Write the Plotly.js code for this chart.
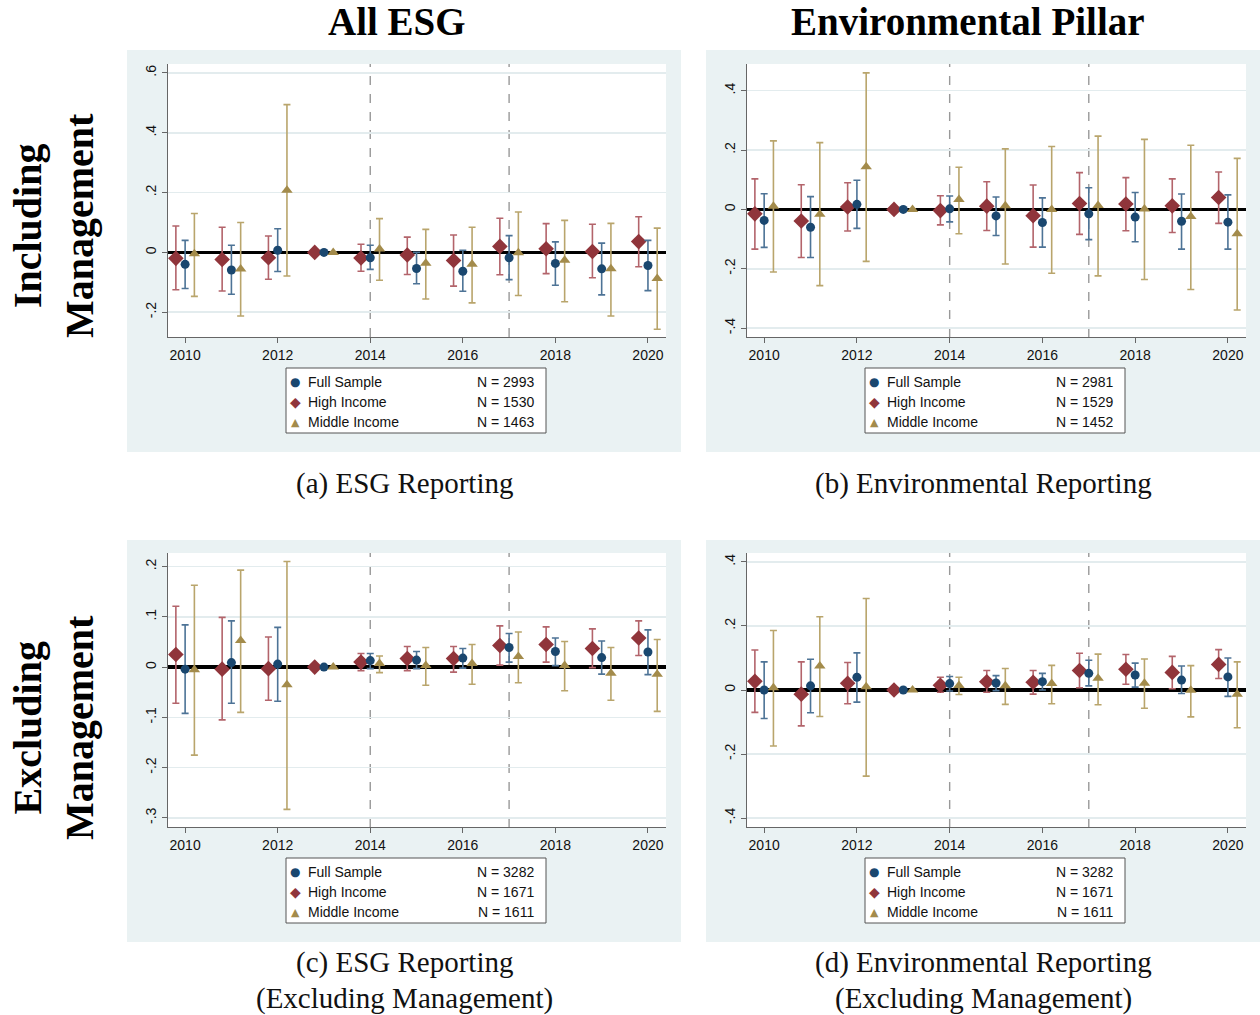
<!DOCTYPE html>
<html><head><meta charset="utf-8">
<script src="https://cdn.plot.ly/plotly-3.0.1.min.js"></script>
<style>html,body{margin:0;padding:0;background:#fff}#chart{width:1260px;height:1015px}</style>
</head><body><div id="chart"></div>
<script>
// ---------- data ----------
const years = [2010,2011,2012,2013,2014,2015,2016,2017,2018,2019,2020];
const seriesNames = ["Full Sample","High Income","Middle Income"];
const xTickVals = [2010,2012,2014,2016,2018,2020];
const eventYears = [2014,2017];

// Panel A: ESG reporting (including management)
const aFullB  = [-0.040,-0.059,0.007,0,-0.018,-0.054,-0.063,-0.018,-0.037,-0.055,-0.044];
const aFullLo = [-0.121,-0.140,-0.064,null,-0.057,-0.105,-0.130,-0.091,-0.110,-0.142,-0.128];
const aFullHi = [0.040,0.024,0.079,null,0.024,0.000,0.007,0.056,0.035,0.031,0.040];
const aHighB  = [-0.020,-0.024,-0.018,0,-0.019,-0.009,-0.027,0.020,0.012,0.003,0.036];
const aHighLo = [-0.125,-0.129,-0.090,null,-0.063,-0.074,-0.113,-0.075,-0.071,-0.085,-0.048];
const aHighHi = [0.088,0.084,0.055,null,0.027,0.051,0.058,0.114,0.096,0.094,0.119];
const aMidB   = [-0.005,-0.056,0.208,0,0.011,-0.036,-0.040,-0.001,-0.026,-0.055,-0.087];
const aMidLo  = [-0.147,-0.213,-0.079,null,-0.093,-0.156,-0.169,-0.144,-0.165,-0.213,-0.257];
const aMidHi  = [0.130,0.100,0.494,null,0.113,0.077,0.084,0.135,0.107,0.097,0.081];
const aN = [2993,1530,1463];

// Panel B: Environmental reporting (including management)
const bFullB  = [-0.037,-0.060,0.017,0,0.002,-0.022,-0.044,-0.015,-0.026,-0.040,-0.043];
const bFullLo = [-0.128,-0.162,-0.064,null,-0.042,-0.088,-0.127,-0.102,-0.109,-0.134,-0.134];
const bFullHi = [0.053,0.043,0.098,null,0.045,0.042,0.039,0.073,0.057,0.052,0.049];
const bHighB  = [-0.015,-0.039,0.008,0,-0.004,0.011,-0.021,0.020,0.018,0.012,0.040];
const bHighLo = [-0.134,-0.162,-0.073,null,-0.052,-0.071,-0.127,-0.084,-0.072,-0.078,-0.047];
const bHighHi = [0.103,0.083,0.090,null,0.046,0.093,0.082,0.124,0.107,0.103,0.126];
const bMidB   = [0.011,-0.016,0.144,0,0.033,0.012,0.000,0.013,0.001,-0.024,-0.082];
const bMidLo  = [-0.211,-0.257,-0.175,null,-0.082,-0.184,-0.215,-0.224,-0.236,-0.270,-0.339];
const bMidHi  = [0.231,0.225,0.460,null,0.142,0.204,0.212,0.247,0.236,0.216,0.172];
const bN = [2981,1529,1452];

// Panel C: ESG reporting (excluding management)
const cFullB  = [-0.004,0.009,0.006,0,0.013,0.014,0.018,0.039,0.031,0.019,0.030];
const cFullLo = [-0.092,-0.072,-0.068,null,-0.003,-0.003,-0.002,0.010,0.003,-0.014,-0.015];
const cFullHi = [0.084,0.092,0.079,null,0.027,0.031,0.037,0.067,0.058,0.052,0.074];
const cHighB  = [0.025,-0.004,-0.003,0,0.010,0.017,0.017,0.043,0.045,0.037,0.058];
const cHighLo = [-0.072,-0.105,-0.066,null,-0.007,-0.007,-0.010,0.004,0.010,-0.001,0.023];
const cHighHi = [0.121,0.099,0.060,null,0.027,0.041,0.041,0.082,0.080,0.076,0.092];
const cMidB   = [-0.005,0.053,-0.035,0,0.007,0.003,0.007,0.021,0.003,-0.012,-0.014];
const cMidLo  = [-0.175,-0.090,-0.283,null,-0.011,-0.036,-0.034,-0.031,-0.047,-0.066,-0.088];
const cMidHi  = [0.163,0.193,0.210,null,0.022,0.039,0.045,0.070,0.051,0.039,0.055];
const cN = [3282,1671,1611];

// Panel D: Environmental reporting (excluding management)
const dFullB  = [0.000,0.013,0.040,0,0.020,0.022,0.026,0.052,0.047,0.031,0.041];
const dFullLo = [-0.089,-0.071,-0.038,null,-0.003,-0.002,0.000,0.013,0.009,-0.011,-0.020];
const dFullHi = [0.088,0.096,0.116,null,0.042,0.045,0.052,0.093,0.084,0.075,0.100];
const dHighB  = [0.027,-0.013,0.021,0,0.015,0.026,0.024,0.061,0.065,0.055,0.080];
const dHighLo = [-0.070,-0.112,-0.043,null,-0.007,-0.007,-0.013,0.007,0.018,0.004,0.036];
const dHighHi = [0.125,0.088,0.086,null,0.040,0.061,0.061,0.115,0.111,0.105,0.126];
const dMidB   = [0.007,0.075,0.010,0,0.014,0.013,0.020,0.037,0.021,-0.001,-0.013];
const dMidLo  = [-0.175,-0.083,-0.269,null,-0.014,-0.045,-0.043,-0.046,-0.057,-0.084,-0.118];
const dMidHi  = [0.186,0.229,0.286,null,0.040,0.067,0.077,0.112,0.097,0.076,0.088];
const dN = [3282,1671,1611];

const colTitles = ["All ESG","Environmental Pillar"];
const rowTitles = ["Including<br>Management","Excluding<br>Management"];
const captionLine1 = ["(a) ESG Reporting","(b) Environmental Reporting","(c) ESG Reporting","(d) Environmental Reporting"];
const captionLine2 = ["","","(Excluding Management)","(Excluding Management)"];

const aTicks = [-0.2,0,0.2,0.4,0.6], aTickText = ["-.2","0",".2",".4",".6"];
const bTicks = [-0.4,-0.2,0,0.2,0.4], bTickText = ["-.4","-.2","0",".2",".4"];
const cTicks = [-0.3,-0.2,-0.1,0,0.1,0.2], cTickText = ["-.3","-.2","-.1","0",".1",".2"];
const dTicks = [-0.4,-0.2,0,0.2,0.4], dTickText = ["-.4","-.2","0",".2",".4"];

// ---------- layout / styling ----------
const W = 1260, H = 1015;
const px = x => x / W, py = y => 1 - y / H;
const colors = {full:"#1a476f", high:"#90353b", mid:"#a38b4b"};
const barColors = {full:"#4d7396", high:"#b3646b", mid:"#b9a56c"};
const offsets = {high:-0.2, full:0, mid:0.2};
const symbols = {full:"circle", high:"diamond", mid:"triangle-up"};
const sizes = {full:9, high:12, mid:10};

const panels = [
  {ax:"", full:[aFullB,aFullLo,aFullHi], high:[aHighB,aHighLo,aHighHi], mid:[aMidB,aMidLo,aMidHi], N:aN,
   xPix:[168,666], yPix:[64,337], yr:[-0.283,0.63], tv:aTicks, tt:aTickText, bg:[127,681,50,452]},
  {ax:"2", full:[bFullB,bFullLo,bFullHi], high:[bHighB,bHighLo,bHighHi], mid:[bMidB,bMidLo,bMidHi], N:bN,
   xPix:[747,1246], yPix:[64,337], yr:[-0.430,0.49], tv:bTicks, tt:bTickText, bg:[706,1260,50,452]},
  {ax:"3", full:[cFullB,cFullLo,cFullHi], high:[cHighB,cHighLo,cHighHi], mid:[cMidB,cMidLo,cMidHi], N:cN,
   xPix:[168,666], yPix:[553,827], yr:[-0.318,0.227], tv:cTicks, tt:cTickText, bg:[127,681,540,942]},
  {ax:"4", full:[dFullB,dFullLo,dFullHi], high:[dHighB,dHighLo,dHighHi], mid:[dMidB,dMidLo,dMidHi], N:dN,
   xPix:[747,1246], yPix:[553,827], yr:[-0.428,0.428], tv:dTicks, tt:dTickText, bg:[706,1260,540,942]}
];

const traces = [];
const shapes = [];
const annotations = [];
const layout = {
  width: W, height: H, margin:{l:0,r:0,t:0,b:0},
  paper_bgcolor:"#ffffff", plot_bgcolor:"#ffffff", showlegend:false,
  font:{family:"Liberation Sans, Arial, sans-serif", size:14, color:"#111"}
};

panels.forEach((p, pi) => {
  const xa = "x" + p.ax, ya = "y" + p.ax;
  // panel background + white plot region
  shapes.push({type:"rect", xref:"paper", yref:"paper", layer:"below",
    x0:px(p.bg[0]), x1:px(p.bg[1]), y0:py(p.bg[3]), y1:py(p.bg[2]),
    fillcolor:"#eaf2f3", line:{width:0}});
  shapes.push({type:"rect", xref:"paper", yref:"paper", layer:"below",
    x0:px(p.xPix[0]), x1:px(p.xPix[1]), y0:py(p.yPix[1]), y1:py(p.yPix[0]),
    fillcolor:"#ffffff", line:{width:0}});
  layout["xaxis"+p.ax] = {
    domain:[px(p.xPix[0]), px(p.xPix[1])], anchor:ya, range:[2009.63,2020.39],
    tickvals:xTickVals, ticktext:xTickVals.map(String), ticks:"outside", ticklen:5, tickcolor:"#666",
    showline:true, linecolor:"#666", linewidth:1, showgrid:false, zeroline:false,
    tickfont:{family:"Liberation Sans, Arial, sans-serif", size:14, color:"#111"}, fixedrange:true
  };
  layout["yaxis"+p.ax] = {
    domain:[py(p.yPix[1]), py(p.yPix[0])], anchor:xa, range:p.yr,
    tickvals:p.tv, ticktext:p.tt, tickangle:-90, ticks:"outside", ticklen:5, tickcolor:"#666",
    showline:true, linecolor:"#666", linewidth:1, showgrid:true, gridcolor:"#e3ecee", gridwidth:1.5,
    zeroline:true, zerolinecolor:"#000", zerolinewidth:3.5,
    tickfont:{family:"Liberation Sans, Arial, sans-serif", size:14, color:"#111"}, fixedrange:true
  };
  ["high","full","mid"].forEach(k => {
    const [b, lo, hi] = p[k];
    traces.push({
      type:"scatter", mode:"markers", xaxis:xa, yaxis:ya,
      name: k,
      x: years.map(y => y + offsets[k]), y: b,
      error_y:{type:"data", symmetric:false,
        array: hi.map((h,i) => h === null ? null : h - b[i]),
        arrayminus: lo.map((l,i) => l === null ? null : b[i] - l),
        color: barColors[k], thickness:1.6, width:3.5},
      marker:{symbol:symbols[k], size:sizes[k], color:colors[k], line:{width:0}},
      cliponaxis:false, hoverinfo:"skip"
    });
  });
  // event lines
  eventYears.forEach(ey => shapes.push({type:"line", xref:xa, yref:ya+" domain", x0:ey, x1:ey, y0:0, y1:1,
    line:{color:"#999", width:1.4, dash:"dash"}, layer:"below"}));
  // legend box
  const dx = (pi % 2) * 579, dy = Math.floor(pi / 2) * 490;
  shapes.push({type:"rect", xref:"paper", yref:"paper", x0:px(286+dx), x1:px(546+dx), y0:py(433+dy), y1:py(368+dy),
    fillcolor:"#ffffff", line:{color:"#555", width:1}});
  const glyphs = ["●","◆","▲"], gcol = [colors.full, colors.high, colors.mid], gsize=[12,14,11];
  [0,1,2].forEach(r => {
    const yy = 382 + r*20 + dy;
    annotations.push({xref:"paper", yref:"paper", x:px(295+dx), y:py(yy), text:glyphs[r], showarrow:false,
      xanchor:"center", yanchor:"middle", font:{size:gsize[r], color:gcol[r], family:"DejaVu Sans"}});
    annotations.push({xref:"paper", yref:"paper", x:px(306+dx), y:py(yy), text:seriesNames[r], showarrow:false,
      xanchor:"left", yanchor:"middle", font:{size:14, color:"#111", family:"Liberation Sans, Arial"}});
    annotations.push({xref:"paper", yref:"paper", x:px(536+dx), y:py(yy), text:"N = " + p.N[r], showarrow:false,
      xanchor:"right", yanchor:"middle", font:{size:14, color:"#111", family:"Liberation Sans, Arial"}});
  });
  // captions
  const capX = [404, 983][pi % 2];
  const capY = [483, 962][Math.floor(pi / 2)];
  annotations.push({xref:"paper", yref:"paper", x:px(capX), y:py(capY), text:captionLine1[pi], showarrow:false,
    xanchor:"center", yanchor:"middle", font:{size:29, color:"#111", family:"Liberation Serif, serif"}});
  if (captionLine2[pi]) {
    annotations.push({xref:"paper", yref:"paper", x:px(capX), y:py(capY + 36), text:captionLine2[pi], showarrow:false,
      xanchor:"center", yanchor:"middle", font:{size:29, color:"#111", family:"Liberation Serif, serif"}});
  }
});

// column titles
[397, 968].forEach((cx, i) => annotations.push({xref:"paper", yref:"paper", x:px(cx), y:py(22), text:"<b>"+colTitles[i]+"</b>",
  showarrow:false, xanchor:"center", yanchor:"middle", font:{size:39, color:"#000", family:"Liberation Serif, serif"}}));
// row titles
[226, 728].forEach((cy, i) => annotations.push({xref:"paper", yref:"paper", x:px(53), y:py(cy), text:"<b>"+rowTitles[i]+"</b>",
  showarrow:false, textangle:-90, xanchor:"center", yanchor:"middle",
  font:{size:40, color:"#000", family:"Liberation Serif, serif"}}));

layout.shapes = shapes;
layout.annotations = annotations;
Plotly.newPlot("chart", traces, layout, {staticPlot:true, displayModeBar:false});
</script></body></html>
